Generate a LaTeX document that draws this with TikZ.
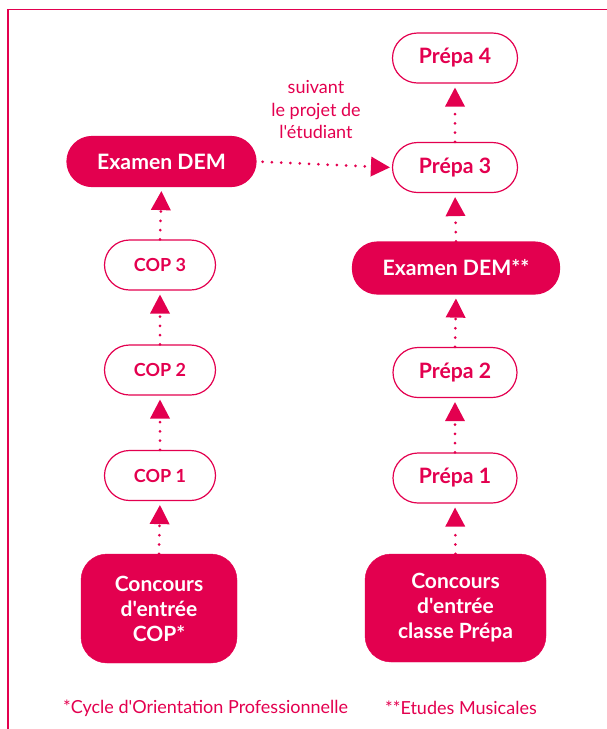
\documentclass[tikz,border=0pt]{standalone}
\usepackage{fontspec}
\setmainfont{Lato}[Ligatures=TeXOff]
\usetikzlibrary{arrows.meta}
\definecolor{rose}{HTML}{E3004F}
\begin{document}
\begin{tikzpicture}[x=1pt,y=-1pt,
  pill/.style={draw=rose, line width=1.2pt, rounded corners=25pt, minimum height=50pt, text=rose, font=\bfseries\fontsize{18}{20}\selectfont, inner sep=0pt},
  pillfill/.style={pill, fill=rose, text=white},
  bigfont/.style={font=\bfseries\fontsize{21.2}{22}\selectfont},
  bigbox/.style={fill=rose, draw=rose, rounded corners=26pt, text=white, align=center, font=\bfseries\fontsize{21}{25}\selectfont, inner sep=0pt},
  dotarrow/.style={draw=rose, line width=3pt, line cap=round, dash pattern=on 0pt off 9.3pt, -{Triangle[width=20pt,length=19pt,line width=0pt]}, shorten >=4pt},
  note/.style={text=rose, font=\fontsize{18}{22.5}\selectfont, inner sep=0pt}
]
\useasboundingbox (0,0) rectangle (607,729);
\draw[rose, line width=1.3pt] (8,729) -- (8,9.5) -- (607,9.5);

% left column
\node[pillfill, minimum width=189pt, bigfont] (dem1) at (161.5,161.5) {Examen DEM};
\node[pill, minimum width=111pt] (cop3) at (160,265) {COP 3};
\node[pill, minimum width=111pt] (cop2) at (160,370) {COP 2};
\node[pill, minimum width=111pt] (cop1) at (160,475.5) {COP 1};
\node[bigbox, minimum width=156pt, minimum height=109pt] (conc1) at (159,608.5) {Concours\\d'entrée\\COP*};

% right column
\node[pill, minimum width=125pt, bigfont] (p4) at (455,58) {Prépa 4};
\node[pill, minimum width=125pt, bigfont] (p3) at (455,167.5) {Prépa 3};
\node[pillfill, minimum width=207pt, minimum height=52pt, bigfont] (dem2) at (456,268) {Examen DEM**};
\node[pill, minimum width=124pt, bigfont] (p2) at (455,372.5) {Prépa 2};
\node[pill, minimum width=124pt, bigfont] (p1) at (455,478) {Prépa 1};
\node[bigbox, minimum width=181pt, minimum height=108pt] (conc2) at (455.5,608) {Concours\\d'entrée\\classe Prépa};

% arrows
\draw[dotarrow] (cop3.north) -- (dem1.south);
\draw[dotarrow] (cop2.north) -- (cop3.south);
\draw[dotarrow] (cop1.north) -- (cop2.south);
\draw[dotarrow] (conc1.north) -- (cop1.south);
\draw[dotarrow] (p3.north) -- (p4.south);
\draw[dotarrow] (dem2.north) -- (p3.south);
\draw[dotarrow] (p2.north) -- (dem2.south);
\draw[dotarrow] (p1.north) -- (p2.south);
\draw[dotarrow] (conc2.north) -- (p1.south);
\draw[dotarrow, shorten <=6pt, shorten >=2pt] (dem1.east) -- (p3.west);

\node[note, align=center] (lbl) at (316,110) {suivant\\le projet de\\l'étudiant};
\node[note, anchor=west] (fn1) at (63,708) {*Cycle d'Orientation Professionnelle};
\node[note, anchor=west] (fn2) at (385,708) {**Etudes Musicales};
\end{tikzpicture}
\end{document}
